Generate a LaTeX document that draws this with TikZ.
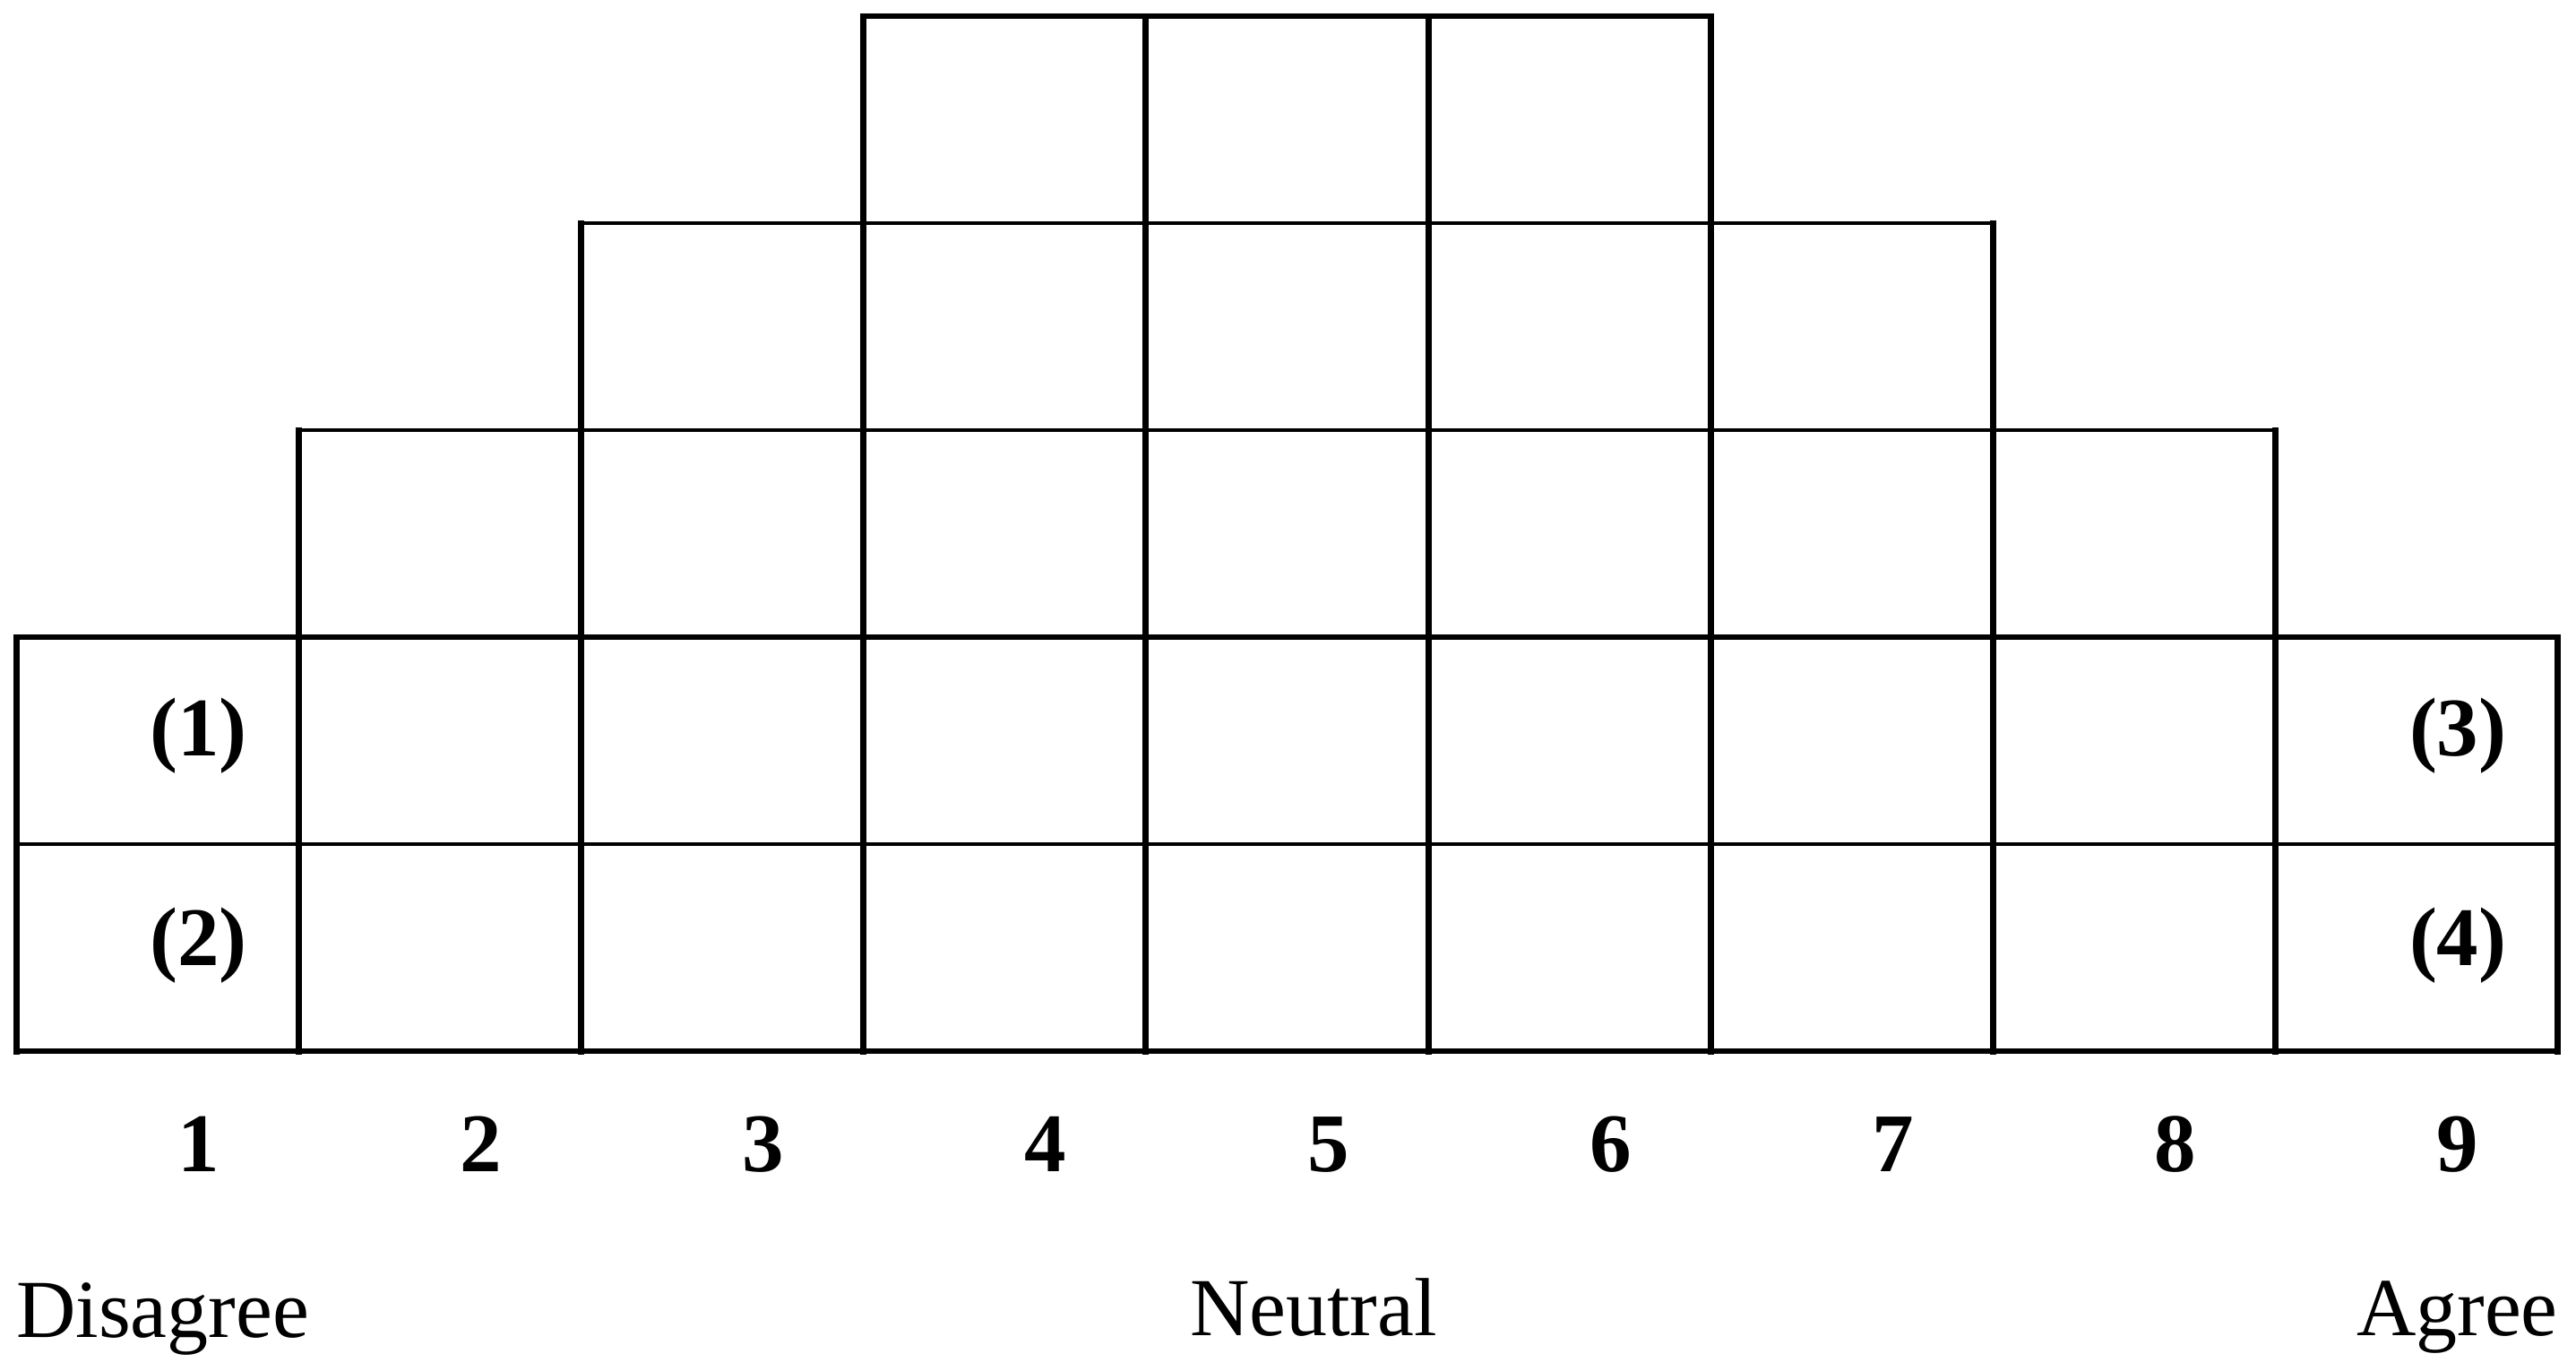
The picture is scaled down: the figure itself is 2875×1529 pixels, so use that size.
\documentclass[tikz,border=0pt]{standalone}
\usepackage{fontspec}
\setmainfont{Liberation Serif}
\begin{document}
\begin{tikzpicture}[x=1pt,y=-1pt,
  vline/.style={line width=7pt,line cap=rect},
  hline/.style={line width=5.5pt,line cap=rect},
  thinline/.style={line width=4pt,line cap=rect},
  lbl/.style={inner sep=0pt,anchor=base,font=\fontsize{93}{110}\selectfont\bfseries},
  word/.style={inner sep=0pt,font=\fontsize{92}{110}\selectfont}]
\useasboundingbox[fill=white] (0,0) rectangle (2875,1529);
% grid points
\foreach \k in {0,...,9}{
  \foreach \j in {0,...,5}{
    \coordinate (p\k-\j) at ({18+\k*315.2},{18+\j*231});
  }
}
% vertical lines
\draw[vline] (p0-3) -- (p0-5);
\draw[vline] (p9-3) -- (p9-5);
\draw[vline] (p1-2) -- (p1-5);
\draw[vline] (p8-2) -- (p8-5);
\draw[vline] (p2-1) -- (p2-5);
\draw[vline] (p7-1) -- (p7-5);
\foreach \k in {3,...,6}{\draw[vline] (p\k-0) -- (p\k-5);}
% horizontal lines
\draw[hline] (p3-0) -- (p6-0);
\draw[thinline] (p2-1) -- (p7-1);
\draw[thinline] (p1-2) -- (p8-2);
\draw[hline] (p0-3) -- (p9-3);
\draw[thinline] (p0-4) -- (p9-4);
\draw[hline] (p0-5) -- (p9-5);
% cell labels
\node[lbl] (c1) at ({18+0.5*315.2+46},843) {(1)};
\node[lbl] (c2) at ({18+0.5*315.2+46},1077) {(2)};
\node[lbl] (c3) at ({18+8.5*315.2+46},843) {(3)};
\node[lbl] (c4) at ({18+8.5*315.2+46},1077) {(4)};
% scale numbers
\foreach \k in {1,...,9}{
  \node[lbl] (n\k) at ({18+(\k-0.5)*315.2+46},1307) {\k};
}
% scale words
\node[word,anchor=base west] (dis) at (18,1492) {Disagree};
\node[word,anchor=base] (neu) at (1466,1490) {Neutral};
\node[word,anchor=base east] (agr) at (2855,1490) {Agree};
\end{tikzpicture}
\end{document}
